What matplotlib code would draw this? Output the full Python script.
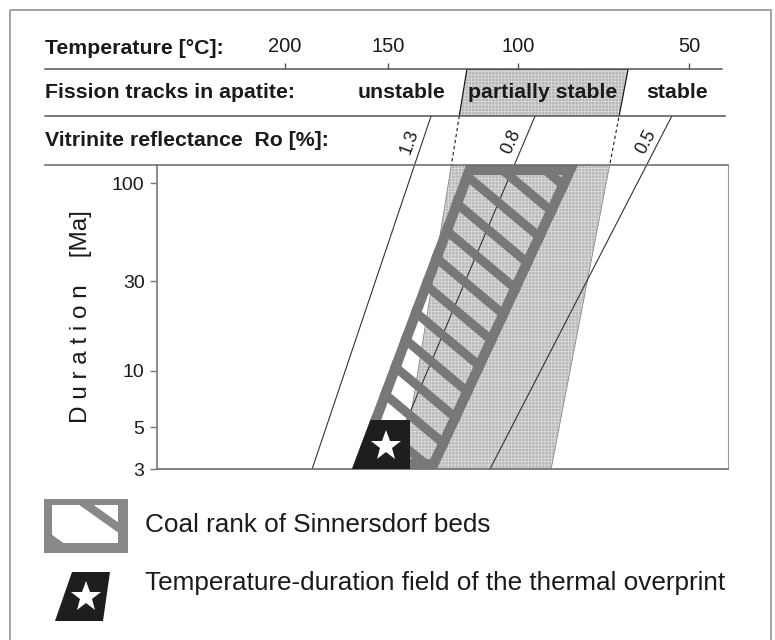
import numpy as np
import matplotlib
matplotlib.use("Agg")
import matplotlib.pyplot as plt
from matplotlib.patches import Polygon, Rectangle
from matplotlib.lines import Line2D
from matplotlib.ticker import NullLocator

plt.rcParams['font.family'] = ['Liberation Sans', 'DejaVu Sans']
plt.rcParams['hatch.linewidth'] = 0.5

# temperature axis (degC, 1/T spacing) and duration axis (Ma, log)
temp_ticks = [200, 150, 100, 50]
temp_lim = [281.6, 40.4]
dur_ticks = [3, 5, 10, 30, 100]
dur_lim = [3, 125]

# apatite fission tracks; partial annealing zone boundaries given as
# temperature at 3 Ma and at the top of the header
ft_names = ['unstable', 'partially stable', 'stable']
ft_name_T = [144, 92, 53]
paz_T_base = [143.9, 89.2]
paz_T_top = [118.2, 66.2]

# vitrinite iso-reflectance lines (Ro %)
ro_names = ['1.3', '0.8', '0.5']
ro_T_base = [185.7, 150.8, 109.8]
ro_T_top = [132.0, 94.4, 54.4]
ro_rot = [70, 66, 62]

# coal rank field of the Sinnersdorf beds
coal_T_top = [118.5, 80.8]
coal_T_base = [166.2, 129.7]
coal_dur = [125, 3]

# temperature-duration field of the thermal overprint
over_T = [175, 140.6]
over_dur = [3, 5.5]
star_T, star_dur = 151, 4.0

legend_text = ['Coal rank of Sinnersdorf beds',
               'Temperature-duration field of the thermal overprint']

INK = '#1a1a1a'
GREY = '#787878'
W, H = 775, 640
BL, BT, BR, BB = 157, 165, 728, 469      # plot box (px)
ROW_TEMP, ROW_FT = 69, 116               # header rules (px)


# increasing in T, linear in 1/T (kelvin); axis is inverted by the limits
def fwd(t):
    return -1000.0 / (np.asarray(t, dtype=float) + 273.15)


def inv(v):
    return -1000.0 / np.asarray(v, dtype=float) - 273.15


def ay(py):
    # pixel row -> axes fraction of the plot box
    return (BB - py) / (BB - BT)


def on_line(tb, tt, yt, y):
    ub, ut = fwd(tb), fwd(tt)
    return float(inv(ub + (ut - ub) * y / yt))


fig = plt.figure(figsize=(W / 100, H / 100), dpi=100)
ax = fig.add_axes([BL / W, 1 - BB / H, (BR - BL) / W, (BB - BT) / H])
ax.set_xscale('function', functions=(fwd, inv))
ax.set_yscale('log')
ax.set_xlim(temp_lim)
ax.set_ylim(dur_lim)

# temperature scale sits on the first header rule
tax = fig.add_axes([BL / W, 1 - ROW_TEMP / H, (BR - BL) / W, 0.0001], sharex=ax)
tax.set_xticks(temp_ticks, labels=[str(t) for t in temp_ticks])
tax.xaxis.set_ticks_position('top')
tax.tick_params(axis='x', direction='out', length=4.5, width=1, color='#555',
                labelsize=14.5, pad=5, labelcolor=INK)
tax.set_yticks([])
tax.patch.set_visible(False)
for s in tax.spines.values():
    s.set_visible(False)

ax.tick_params(axis='x', bottom=False, labelbottom=False, top=False)
ax.set_yticks(dur_ticks)
ax.set_yticklabels([str(d) for d in dur_ticks])
ax.yaxis.set_minor_locator(NullLocator())
ax.tick_params(axis='y', direction='out', length=5, width=1, color='#777',
               labelsize=14, pad=4, labelcolor=INK)
ax.spines['top'].set_visible(False)
ax.spines['left'].set_color('#777')
ax.spines['left'].set_linewidth(1.2)
ax.spines['bottom'].set_color('#777')
ax.spines['bottom'].set_linewidth(1.3)
ax.spines['right'].set_color('#999')
ax.spines['right'].set_linewidth(0.8)
ax.set_ylabel('D u r a t i o n    [Ma]', fontsize=17.5, labelpad=14, color=INK)

# overlay in pixel units for rules, frame and legend
ov = fig.add_axes([0, 0, 1, 1], zorder=5)
ov.set_xlim(0, W)
ov.set_ylim(H, 0)
ov.axis('off')

bt = ax.get_xaxis_transform()
y_ft = ay(ROW_FT)
y_temp = ay(ROW_TEMP)

# partial annealing zone band
paz_xy = [(paz_T_base[0], 0), (paz_T_top[0], y_temp),
          (paz_T_top[1], y_temp), (paz_T_base[1], 0)]
ax.add_patch(Polygon(paz_xy, closed=True, transform=bt, facecolor='#bababa',
                     edgecolor='#dedede', hatch='+++++', lw=0, zorder=1))
ax.add_patch(Polygon(paz_xy, closed=True, transform=bt, facecolor='none',
                     edgecolor='#8a8a8a', lw=0.6, zorder=1))

ft_row = Rectangle((0, ROW_TEMP), W, ROW_FT - ROW_TEMP, transform=ov.transData)
vit_row = Rectangle((0, ROW_FT), W, BT - ROW_FT, transform=ov.transData)
p = ax.add_patch(Polygon(paz_xy, closed=True, transform=bt, facecolor='#b8b8b8',
                         edgecolor='#dcdcdc', hatch='+++++', lw=0, zorder=1))
p.set_clip_path(ft_row)
p = ax.add_patch(Polygon(paz_xy, closed=True, transform=bt, facecolor='none',
                         edgecolor=INK, lw=0.9, zorder=2))
p.set_clip_path(ft_row)
for tb, tt in zip(paz_T_base, paz_T_top):
    ln = ax.add_line(Line2D([tb, tt], [0, y_temp], transform=bt, color=INK,
                            lw=0.8, ls=(0, (3, 2.5))))
    ln.set_clip_path(vit_row)

# vitrinite reflectance lines
for name, tb, tt, rot in zip(ro_names, ro_T_base, ro_T_top, ro_rot):
    ax.plot([tb, tt], [0, y_ft], transform=bt, color='#333', lw=0.8,
            clip_on=False, zorder=2)
    ax.annotate(name, xy=(on_line(tb, tt, y_ft, ay(142)), ay(142)), xycoords=bt,
                xytext=(-9, 0), textcoords='offset points', rotation=rot,
                ha='center', va='center', fontsize=13, color=INK,
                annotation_clip=False)

for name, t in zip(ft_names, ft_name_T):
    ax.text(t, ay(93), name, transform=bt, ha='center', va='center',
            fontsize=15.3, fontweight='bold', color=INK, clip_on=False)

# coal rank field: thick outline and diagonal bars
coal_xy = [(coal_T_top[0], coal_dur[0]), (coal_T_top[1], coal_dur[0]),
           (coal_T_base[1], coal_dur[1]), (coal_T_base[0], coal_dur[1])]
coal = Polygon(coal_xy, closed=True, facecolor='none', edgecolor=GREY,
               lw=14.5, joinstyle='miter', zorder=4)
ax.add_patch(coal)
coal.set_clip_path(coal)
slope = 1.576
for c in np.arange(1.819 + 0.118 * 2, 0.2, -0.118):
    bar = ax.add_line(Line2D([-0.2, 1.2], [c + slope * 0.2, c - slope * 1.2],
                             transform=ax.transAxes, color=GREY, lw=6.5,
                             zorder=4))
    bar.set_clip_path(coal)

box = Polygon([(over_T[0], over_dur[0]), (over_T[1], over_dur[0]),
               (over_T[1], over_dur[1]), (over_T[0], over_dur[1])],
              closed=True, facecolor='#1e1e1e', edgecolor='none', zorder=5)
ax.add_patch(box)
box.set_clip_path(coal)
ax.plot([star_T], [star_dur], marker='*', ms=23, color='white', mew=0,
        zorder=6, clip_on=False)

# header rules, row titles and outer frame
ov.plot([45, 722], [ROW_TEMP, ROW_TEMP], color='#555', lw=1.1)
ov.plot([45, 725], [ROW_FT, ROW_FT], color='#555', lw=1.1)
ov.plot([45, BR], [BT, BT], color='#666', lw=1.1)
ov.add_patch(Rectangle((10, 10), 761, 645, fill=False, ec='#9c9c9c', lw=1.3,
                       clip_on=False))
ov.text(45, 48, 'Temperature [°C]:', fontsize=15.3, fontweight='bold',
        va='center', ha='left', color=INK)
ov.text(45, 93, 'Fission tracks in apatite:', fontsize=15.3, fontweight='bold',
        va='center', ha='left', color=INK)
ov.text(45, 140, 'Vitrinite reflectance  Ro [%]:', fontsize=15.3,
        fontweight='bold', va='center', ha='left', color=INK)

# legend
ov.add_patch(Rectangle((44, 499), 84, 54, facecolor='#888', edgecolor='none'))
inner = Rectangle((52, 505), 66, 38, facecolor='white', edgecolor='none')
ov.add_patch(inner)
for x0, y0 in [(86.5, 505), (52, 540)]:
    b = ov.add_line(Line2D([x0 - 40, x0 + 60], [y0 - 28.4, y0 + 42.6],
                           color='#888', lw=6))
    b.set_clip_path(inner)
ov.add_patch(Polygon([(72, 572), (110, 572), (103, 621), (55, 621)],
                     closed=True, facecolor='#1e1e1e', edgecolor='none'))
ov.plot([86], [597], marker='*', ms=23, color='white', mew=0)
ov.text(145, 525, legend_text[0], fontsize=18.8, va='center', ha='left',
        color=INK)
ov.text(145, 583, legend_text[1], fontsize=18.8, va='center', ha='left',
        color=INK)

fig.savefig('out.png', dpi=100)
